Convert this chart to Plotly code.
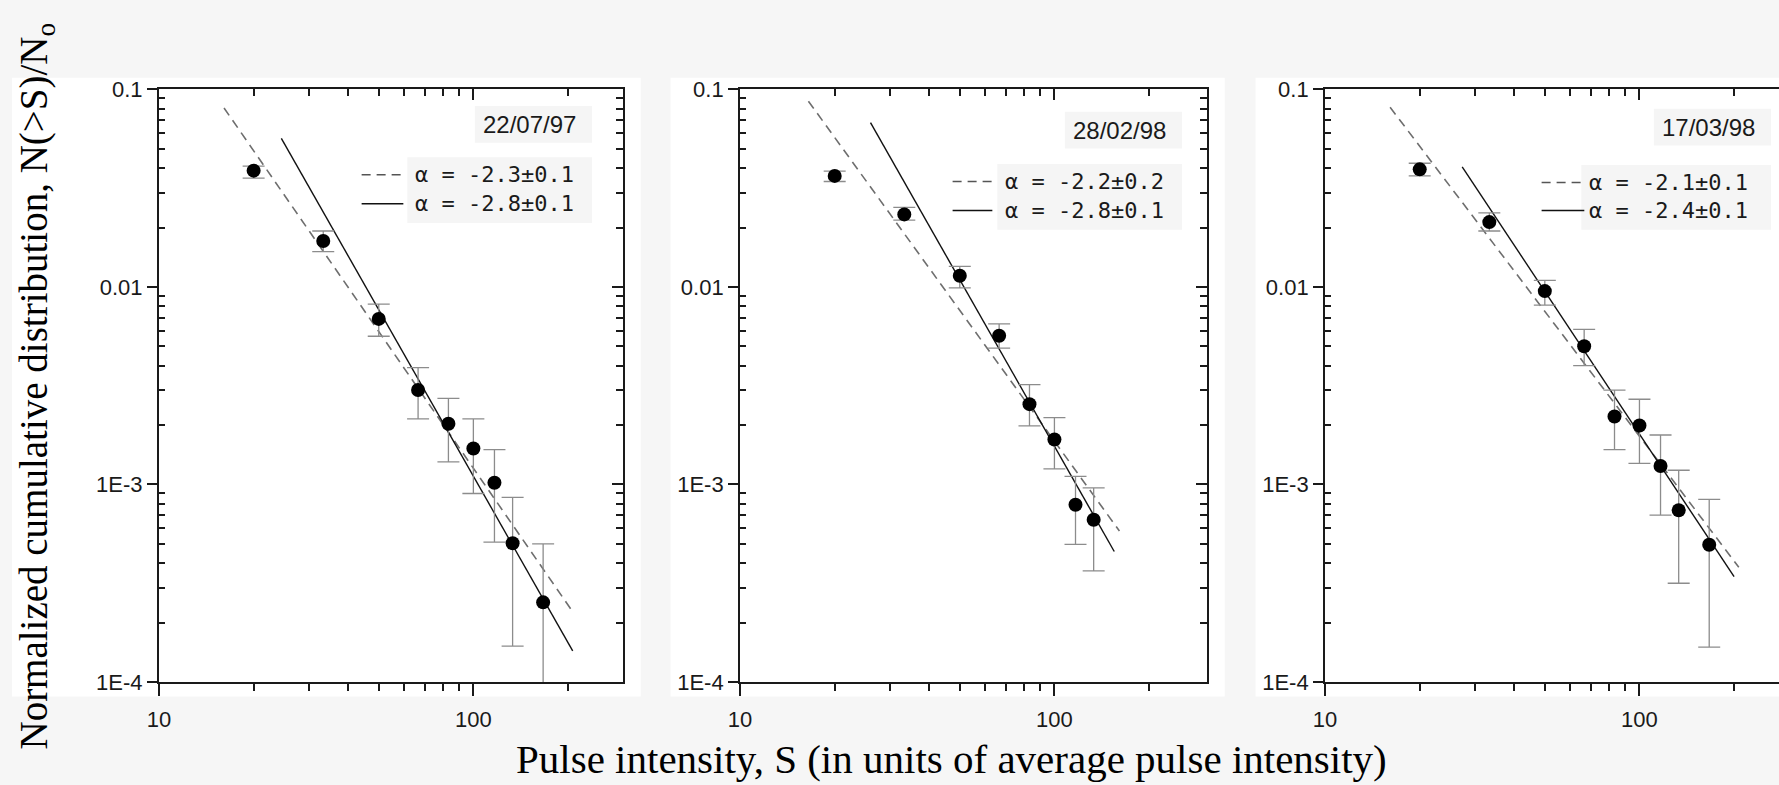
import numpy as np
import plotly.graph_objects as go

W, H = 1779, 785

# ---- data -------------------------------------------------------------
dates = ["22/07/97", "28/02/98", "17/03/98"]

# panel 1
s1 = [20, 33.3, 50, 66.7, 83.3, 100, 116.7, 133.3, 166.7]
n1 = [0.0388, 0.0171, 0.00689, 0.00301, 0.00203, 0.00152, 0.00102, 0.000504, 0.000253]
hi1 = [0.0409, 0.0192, 0.00818, 0.0039, 0.00273, 0.00215, 0.0015, 0.00086, 0.0005]
lo1 = [0.0356, 0.0151, 0.00563, 0.00215, 0.0013, 0.0009, 0.00051, 0.000152, 0.00008]

# panel 2
s2 = [20, 33.3, 50, 66.7, 83.3, 100, 116.7, 133.3]
n2 = [0.0365, 0.0233, 0.0114, 0.00566, 0.00255, 0.00169, 0.00079, 0.000663]
hi2 = [0.0386, 0.0253, 0.0127, 0.0065, 0.0032, 0.00218, 0.0011, 0.00096]
lo2 = [0.0342, 0.0218, 0.0099, 0.0049, 0.00198, 0.0012, 0.000497, 0.000365]

# panel 3
s3 = [20, 33.3, 50, 66.7, 83.3, 100, 116.7, 133.3, 166.7]
n3 = [0.0394, 0.0213, 0.00953, 0.00501, 0.00221, 0.00199, 0.00124, 0.00074, 0.000495]
hi3 = [0.0423, 0.0237, 0.0108, 0.0061, 0.003, 0.0027, 0.00178, 0.00118, 0.00084]
lo3 = [0.0365, 0.0192, 0.0081, 0.004, 0.0015, 0.00128, 0.0007, 0.000316, 0.00015]

# power-law fits N(>S) ~ S^alpha : dashed and solid
dash_alpha = [-2.3, -2.2, -2.1]
dash_err = [0.1, 0.2, 0.1]
dash_from = [16.1, 16.5, 16.1]
dash_to = [207, 161, 207]
dash_anchor_s = [57.7, 51.6, 57.9]
dash_anchor_n = [0.00428, 0.0071, 0.00553]

solid_alpha = [-2.8, -2.8, -2.4]
solid_err = [0.1, 0.1, 0.1]
solid_from = [24.5, 26, 27.3]
solid_to = [207, 155, 200]
solid_anchor_s = [71.3, 63.5, 73.9]
solid_anchor_n = [0.00284, 0.00557, 0.00372]

x_major = [10, 100]
x_minor = [20, 30, 40, 50, 60, 70, 80, 90, 200]
y_major = [1e-4, 1e-3, 1e-2, 1e-1]
y_major_text = ["1E-4", "1E-3", "0.01", "0.1"]
y_minor = [m * d for d in (1e-4, 1e-3, 1e-2) for m in range(2, 10)]

panels = [(s1, n1, hi1, lo1), (s2, n2, hi2, lo2), (s3, n3, hi3, lo3)]

# ---- layout geometry (pixels) -----------------------------------------
box_left = [148, 733, 1322]
box_right = [615, 1203, 1779]
box_top, box_bottom = 80, 692
decade_px = 316.5


def px(x):
    return x / W


def py(y):
    return 1 - y / H


AX = "#1a1a1a"
SANS = "Liberation Sans, Arial, sans-serif"
MONO = "DejaVu Sans Mono, monospace"
SERIF = "Liberation Serif, Times New Roman, serif"
TICKFONT = dict(family=SANS, size=22, color="#1a1a1a")

fig = go.Figure()
layout = dict(
    width=W, height=H,
    margin=dict(l=0, r=0, t=0, b=0),
    paper_bgcolor="#f6f6f6",
    plot_bgcolor="white",
    showlegend=False,
)
shapes = []
annotations = []

for i, (s, n, hi, lo) in enumerate(panels):
    k = i + 1
    ko = i + 4
    xname = "x" if k == 1 else f"x{k}"
    yname = "y" if k == 1 else f"y{k}"
    xkey = "xaxis" if k == 1 else f"xaxis{k}"
    ykey = "yaxis" if k == 1 else f"yaxis{k}"
    xo, yo = f"x{ko}", f"y{ko}"

    xr = [1, 1 + (box_right[i] - box_left[i]) / decade_px]
    xdom = [px(box_left[i]), px(box_right[i])]
    ydom = [py(box_bottom), py(box_top)]

    # white panel backdrop
    shapes.append(dict(type="rect", xref="paper", yref="paper", layer="below",
                       x0=px(0 if i == 0 else box_left[i] - 70), x1=px(min(box_right[i] + 18, W)),
                       y0=py(707), y1=py(68), fillcolor="white", line_width=0))

    layout[xkey] = dict(
        type="log", range=xr, domain=xdom, anchor=yname,
        showline=True, linecolor=AX, linewidth=2, showgrid=False, zeroline=False,
        ticks="outside", ticklen=12, tickwidth=1.5, tickcolor=AX,
        tickvals=x_major, ticktext=[str(v) for v in x_major], tickfont=TICKFONT,
        ticklabelstandoff=5,
        minor=dict(tickvals=x_minor, ticks="outside", ticklen=7, tickwidth=1.5,
                   tickcolor=AX, showgrid=False),
    )
    layout[ykey] = dict(
        type="log", range=[-4, -1], domain=ydom, anchor=xname,
        showline=True, linecolor=AX, linewidth=2, showgrid=False, zeroline=False,
        ticks="outside", ticklen=10, tickwidth=1.5, tickcolor=AX,
        tickvals=y_major, ticktext=y_major_text, tickfont=TICKFONT,
        minor=dict(tickvals=y_minor, ticks="inside", ticklen=6, tickwidth=1.5,
                   tickcolor=AX, showgrid=False),
    )
    # top and right frame with inward ticks
    layout[f"xaxis{ko}"] = dict(
        type="log", range=xr, overlaying=xname, side="top", anchor=yo,
        showline=True, linecolor=AX, linewidth=2, showgrid=False, zeroline=False,
        ticks="inside", ticklen=11, tickwidth=1.5, tickcolor=AX,
        tickvals=x_major, showticklabels=False,
        minor=dict(tickvals=x_minor, ticks="inside", ticklen=7, tickwidth=1.5,
                   tickcolor=AX, showgrid=False),
    )
    right_visible = box_right[i] < W
    layout[f"yaxis{ko}"] = dict(
        type="log", range=[-4, -1], overlaying=yname, side="right", anchor=xo,
        showline=right_visible, linecolor=AX, linewidth=2, showgrid=False, zeroline=False,
        ticks="inside" if right_visible else "", ticklen=11, tickwidth=1.5, tickcolor=AX,
        tickvals=y_major, showticklabels=False,
        minor=dict(tickvals=y_minor, ticks="inside" if right_visible else "", ticklen=7,
                   tickwidth=1.5, tickcolor=AX, showgrid=False),
    )
    fig.add_trace(go.Scatter(x=[], y=[], xaxis=xo, yaxis=yo, hoverinfo="skip"))

    # fit lines through an anchor point with the stated slope
    for a, xa, ya, x0, x1, style in (
        (dash_alpha[i], dash_anchor_s[i], dash_anchor_n[i], dash_from[i], dash_to[i], "dash"),
        (solid_alpha[i], solid_anchor_s[i], solid_anchor_n[i], solid_from[i], solid_to[i], "solid"),
    ):
        xs = np.array([x0, x1])
        ys = ya * (xs / xa) ** a
        fig.add_trace(go.Scatter(
            x=xs, y=ys, mode="lines", xaxis=xname, yaxis=yname, hoverinfo="skip",
            line=dict(color="#6e6e6e" if style == "dash" else "#111111",
                      width=1.6 if style == "dash" else 1.4,
                      dash="9px,6px" if style == "dash" else "solid"),
        ))

    # data points with error bars
    s_a, n_a, hi_a, lo_a = map(np.array, (s, n, hi, lo))
    fig.add_trace(go.Scatter(
        x=s_a, y=n_a, mode="markers", xaxis=xname, yaxis=yname,
        marker=dict(size=14, color="black"),
        error_y=dict(type="data", symmetric=False, array=hi_a - n_a,
                     arrayminus=n_a - lo_a, color="#8c8c8c", thickness=1.3, width=11),
    ))

# ---- in-panel legends ---------------------------------------------------
date_right = [570, 1164, 1757]
date_y = [116, 122, 119]
leg_text_x = [404, 998, 1586]
leg_sample = [(352, 394), (947, 987), (1540, 1583)]
leg_rows = [(168, 198), (175, 205), (176, 205)]

for i in range(3):
    # faint label backgrounds
    shapes.append(dict(type="rect", xref="paper", yref="paper", layer="below",
                       x0=px(date_right[i] - 104), x1=px(min(date_right[i] + 14, W)),
                       y0=py(date_y[i] + 19), y1=py(date_y[i] - 19),
                       fillcolor="#f5f5f5", line_width=0))
    shapes.append(dict(type="rect", xref="paper", yref="paper", layer="below",
                       x0=px(leg_text_x[i] - 6), x1=px(min(date_right[i] + 14, W)),
                       y0=py(leg_rows[i][1] + 20), y1=py(leg_rows[i][0] - 18),
                       fillcolor="#f5f5f5", line_width=0))

    annotations.append(dict(
        text=dates[i], xref="paper", yref="paper", x=px(date_right[i]), y=py(date_y[i]),
        xanchor="right", yanchor="middle", showarrow=False,
        font=dict(family=SANS, size=24, color="#1a1a1a"),
    ))
    entries = [
        (f"α = {dash_alpha[i]:.1f}±{dash_err[i]:.1f}", "dash"),
        (f"α = {solid_alpha[i]:.1f}±{solid_err[i]:.1f}", "solid"),
    ]
    for (txt, style), yrow in zip(entries, leg_rows[i]):
        annotations.append(dict(
            text=txt, xref="paper", yref="paper", x=px(leg_text_x[i]), y=py(yrow),
            xanchor="left", yanchor="middle", showarrow=False,
            font=dict(family=MONO, size=22, color="#1a1a1a"),
        ))
        shapes.append(dict(
            type="line", xref="paper", yref="paper",
            x0=px(leg_sample[i][0]), x1=px(leg_sample[i][1]), y0=py(yrow), y1=py(yrow),
            line=dict(color="#555555" if style == "dash" else "#111111", width=1.5,
                      dash="9px,6px" if style == "dash" else "solid"),
        ))

# ---- axis titles --------------------------------------------------------
annotations.append(dict(
    text="Normalized cumulative distribution, N(>S)/N<sub>o</sub>",
    xref="paper", yref="paper", x=px(25), y=py(386), textangle=-90,
    xanchor="center", yanchor="middle", showarrow=False,
    font=dict(family=SERIF, size=39, color="black"),
))
annotations.append(dict(
    text="Pulse intensity, S (in units of average pulse intensity)",
    xref="paper", yref="paper", x=px(946), y=py(772),
    xanchor="center", yanchor="middle", showarrow=False,
    font=dict(family=SERIF, size=41, color="black"),
))

layout["shapes"] = shapes
layout["annotations"] = annotations
fig.update_layout(**layout)

fig.write_html("out.html")
